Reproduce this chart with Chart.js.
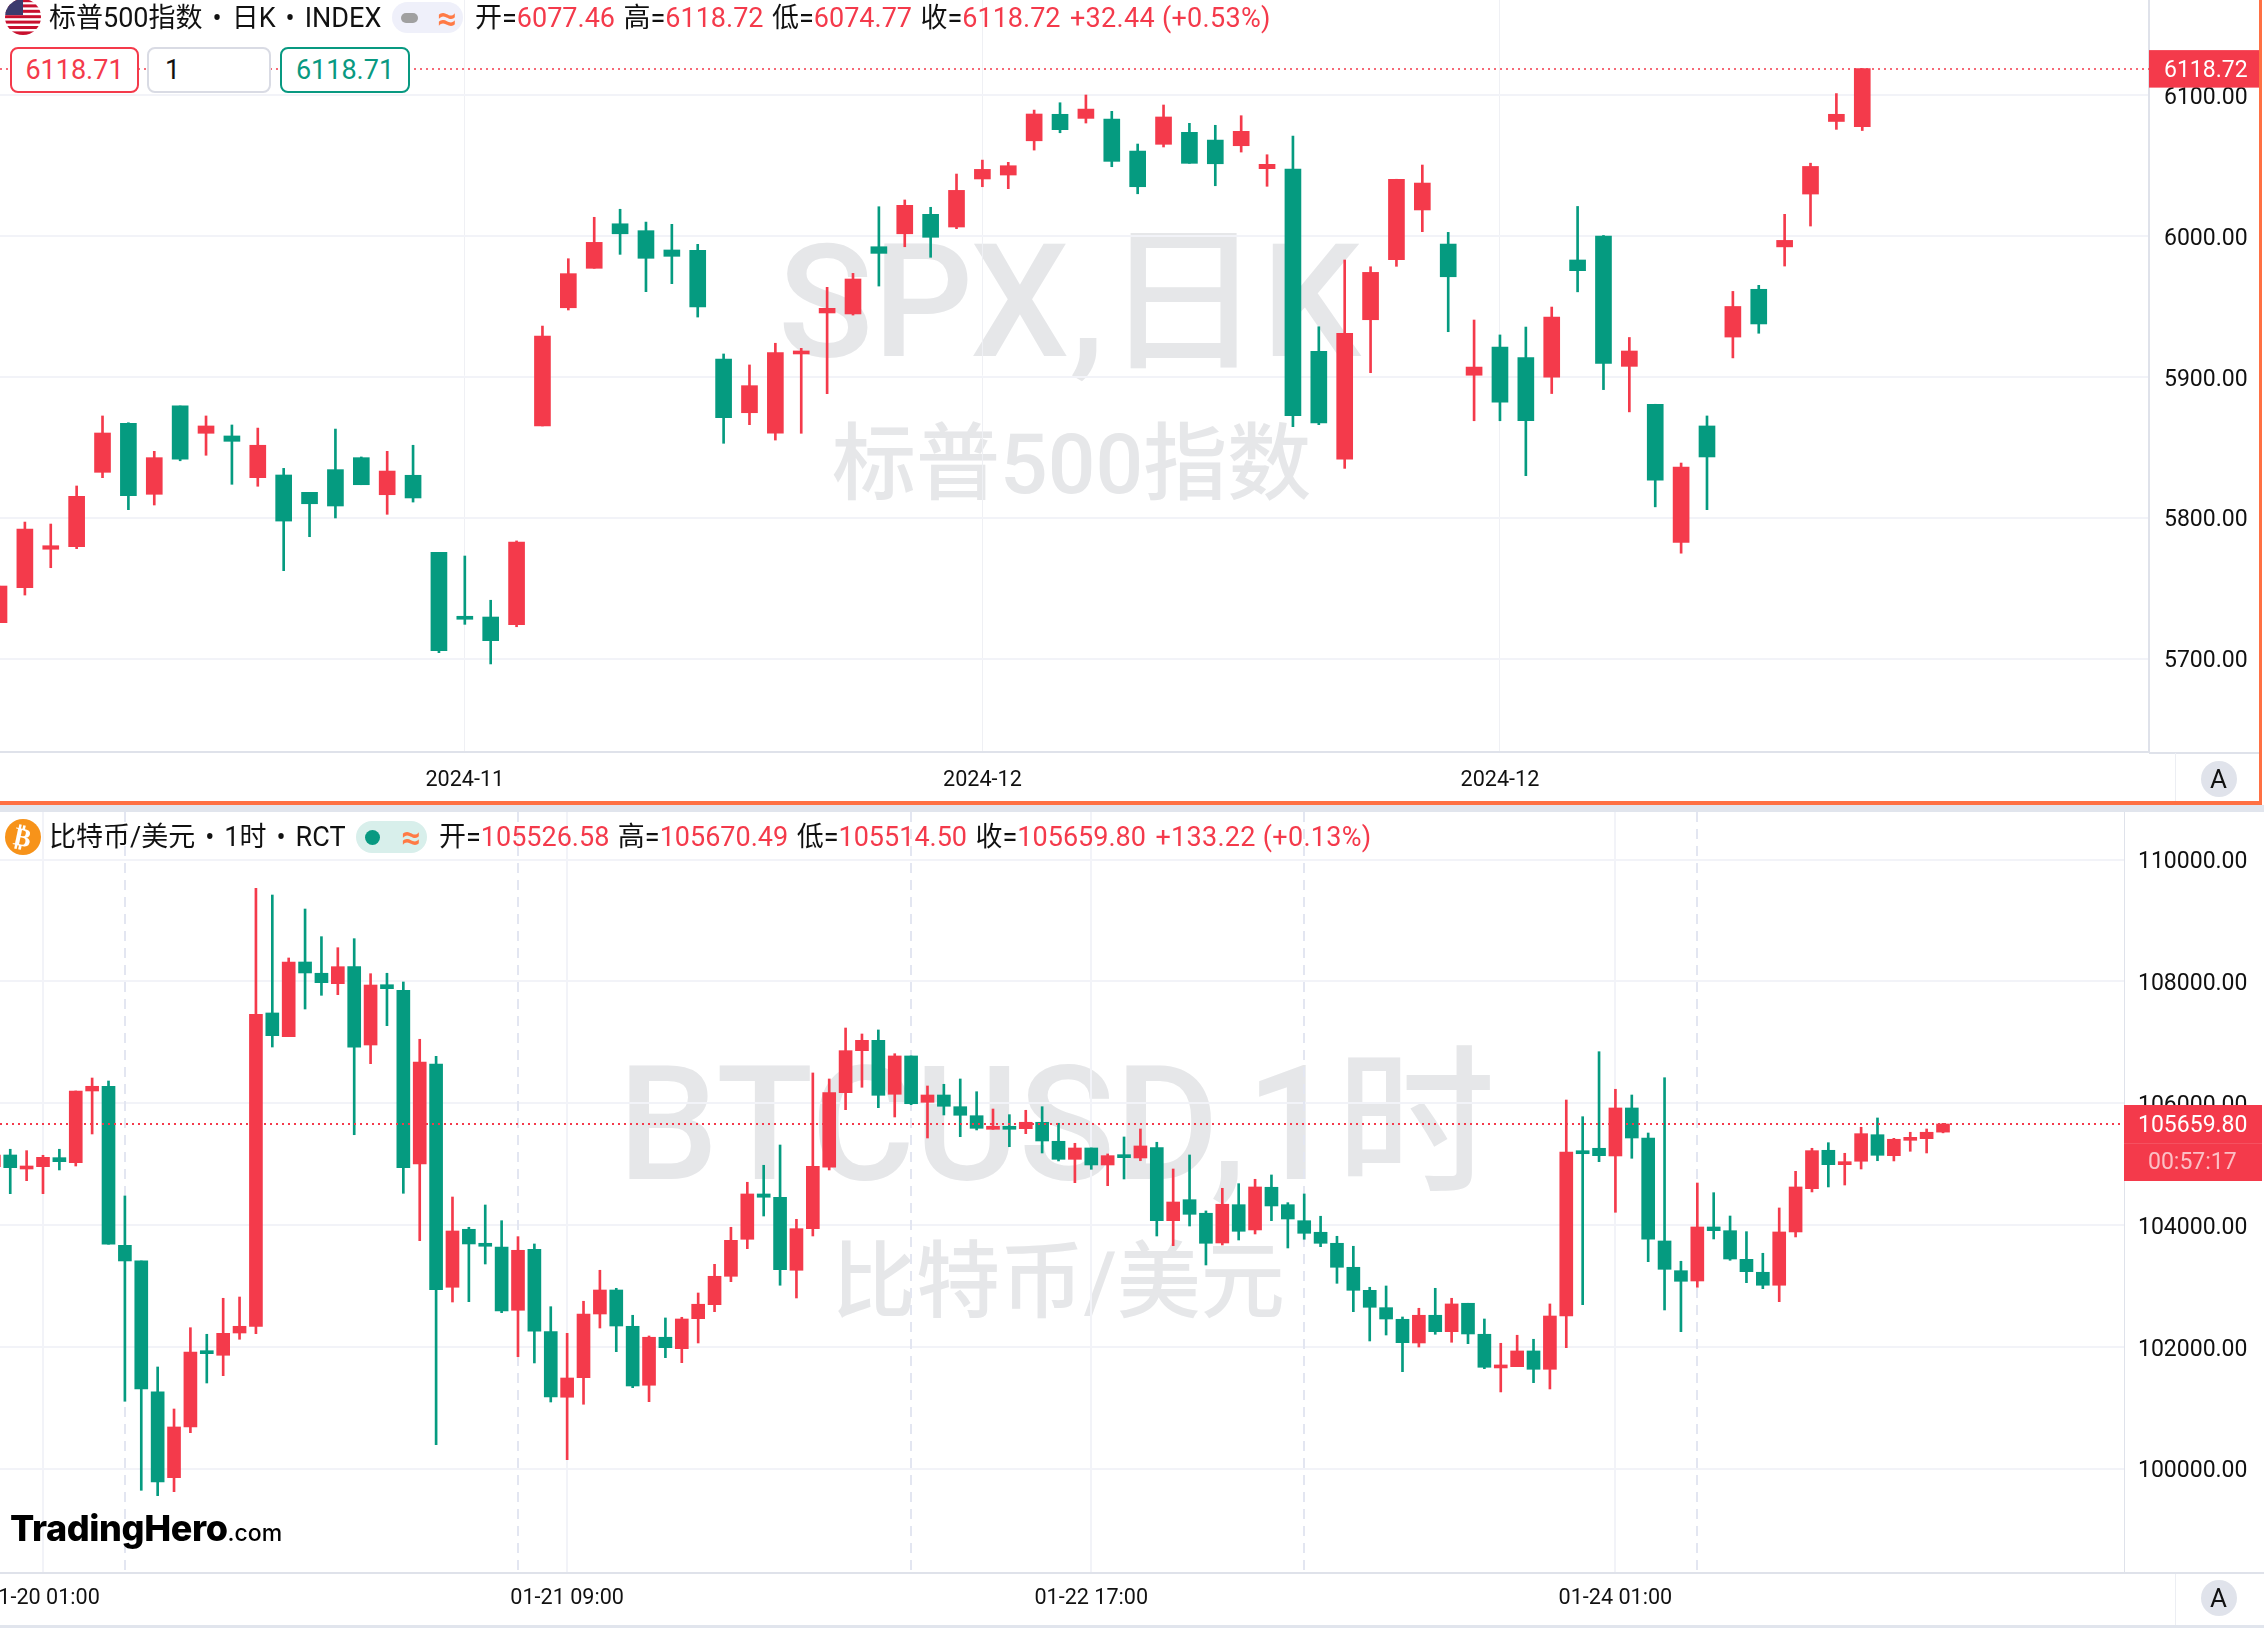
<!DOCTYPE html>
<html lang="zh">
<head>
<meta charset="utf-8">
<title>SPX and BTCUSD</title>
<script src="https://cdn.jsdelivr.net/npm/chart.js@4/dist/chart.umd.js"></script>
<style>
html,body{margin:0;padding:0;background:#fff;width:2264px;height:1628px;overflow:hidden}
body{position:relative;font-family:Roboto,'Noto Sans CJK SC',sans-serif;color:#111}
.abs{position:absolute;white-space:nowrap}
canvas{position:absolute;left:0;z-index:2}
.wm{position:absolute;white-space:nowrap;color:#e6e7e9;z-index:1;font-family:Roboto,'Noto Sans CJK SC',sans-serif;line-height:1;font-weight:500}
.hd{position:absolute;white-space:nowrap;z-index:4;font-size:27px;line-height:32px}
.hd .r{color:#f43a4b}
.hd .g{margin-left:8.5px}
.hd .dot{margin:0 10px}
.box{position:absolute;z-index:4;box-sizing:border-box;background:#fff;border-radius:8px;border:2px solid;font-size:27px;line-height:42px;height:46px;top:47px}
.pill{position:absolute;z-index:4;border-radius:16px}
.btnA{position:absolute;z-index:4;width:36px;height:36px;border-radius:18px;background:#e0e3eb;text-align:center;font-size:26px;line-height:36px;color:#111}
.bar{position:absolute;z-index:3}
</style>
</head>
<body>
<div class="wm" style="left:778px;top:224px;font-size:157px">SPX,日K</div>
<div class="wm" style="left:832px;top:423px;font-size:84px">标普500指数</div>
<div class="wm" style="left:618px;top:1045px;font-size:159px">BTCUSD,1时</div>
<div class="wm" style="left:832px;top:1241px;font-size:84px">比特币/美元</div>

<canvas id="spx" width="2264" height="802" style="top:0"></canvas>
<canvas id="btc" width="2264" height="816" style="top:812px"></canvas>

<div class="bar" style="left:2149px;top:751.5px;width:110px;height:2px;background:#dfe2ea"></div>
<div class="bar" style="left:2124px;top:1572px;width:140px;height:2px;background:#dfe2ea"></div>
<div class="bar" style="left:2175px;top:753px;width:1px;height:48px;background:#eceef3"></div>
<div class="bar" style="left:0;top:801px;width:2262px;height:3.5px;background:#ff7043"></div>
<div class="bar" style="left:2258.5px;top:0;width:3.5px;height:804px;background:#ff7043"></div>
<div class="bar" style="left:0;top:804.5px;width:2264px;height:7.5px;background:#e1e5ed"></div>
<div class="bar" style="left:0;top:1625px;width:2264px;height:3px;background:#e1e5ed"></div>
<div class="bar" style="left:2175px;top:1574px;width:1px;height:51px;background:#eceef3"></div>

<svg class="abs" style="left:5px;top:0;z-index:4" width="36" height="36" viewBox="0 0 36 36">
<defs><clipPath id="c"><circle cx="18" cy="17" r="18"/></clipPath></defs>
<g clip-path="url(#c)">
<rect x="0" y="-1" width="36" height="37" fill="#fff"/>
<rect x="0" y="-1" width="36" height="3.2" fill="#c8102e"/><rect x="0" y="4.4" width="36" height="3" fill="#c8102e"/><rect x="0" y="9.8" width="36" height="3" fill="#c8102e"/><rect x="0" y="15.2" width="36" height="3" fill="#c8102e"/><rect x="0" y="20.6" width="36" height="3" fill="#c8102e"/><rect x="0" y="26" width="36" height="3" fill="#c8102e"/><rect x="0" y="31.4" width="36" height="4" fill="#c8102e"/>
<rect x="0" y="-1" width="18" height="16" fill="#3c3b6e"/>
</g></svg>
<div class="hd" style="left:49px;top:2px">标普500指数<span class="dot">•</span>日K<span class="dot">•</span>INDEX</div>
<div class="pill" style="left:392px;top:2px;width:71px;height:31px;background:#eff0fa"></div>
<div class="pill" style="left:401px;top:13px;width:17px;height:10px;background:#a0a0a0;border-radius:5px"></div>
<div class="hd" style="left:437px;top:2px;color:#ff7a45;font-size:34px;font-weight:700">≈</div>
<div class="hd" id="spxHead" style="left:475px;top:2px"></div>

<div class="box" style="left:10px;width:129px;border-color:#f43a4b;color:#f43a4b;text-align:center">6118.71</div>
<div class="box" style="left:147px;width:124px;border-color:#d9dbe4;color:#111;padding-left:16px">1</div>
<div class="box" style="left:280px;width:130px;border-color:#089981;color:#089981;text-align:center">6118.71</div>
<div class="btnA" style="left:2200.5px;top:761px">A</div>

<div class="abs" style="left:5px;top:819px;width:36px;height:36px;border-radius:18px;background:#f7931a;color:#fff;z-index:4;text-align:center;font:bold 26px/36px 'DejaVu Sans'"><span style="display:inline-block;transform:rotate(12deg)">₿</span></div>
<div class="hd" style="left:49px;top:821px">比特币/美元<span class="dot">•</span>1时<span class="dot">•</span>RCT</div>
<div class="pill" style="left:356px;top:821px;width:71px;height:32px;background:#d8efeb"></div>
<div class="pill" style="left:365px;top:829.5px;width:15px;height:15px;background:#089981;border-radius:8px"></div>
<div class="hd" style="left:401px;top:821px;color:#ff7a45;font-size:34px;font-weight:700">≈</div>
<div class="hd" id="btcHead" style="left:439px;top:821px"></div>
<div class="btnA" style="left:2200.5px;top:1580px">A</div>

<div class="abs" style="left:10px;top:1503px;z-index:4;color:#000;font:800 36px/50px Inter,Lato,sans-serif;letter-spacing:-.4px">TradingHero<span style="font:500 23px/50px Inter,sans-serif;letter-spacing:0">.com</span></div>

<script>
// S&P 500, daily candles
const spxOpen=[5725.5,5750.3,5777.6,5779.4,5832.2,5867,5816.6,5879.3,5859.9,5858,5828.4,5830.3,5818,5834.1,5842.6,5816.3,5830.1,5775.4,5728.8,5729.5,5724.1,5865.1,5949,5977,6008.6,6003.7,5990,5989.8,5912.6,5874.5,5859.9,5916.2,5945.3,5944.6,5992.3,6001.5,6015.3,6006.3,6040.4,6043.2,6067.5,6086.3,6083.4,6082.9,6060.2,6065,6073.5,6068,6064,6047.7,6047.5,5918.1,5841.6,5940.5,5983.1,6018.4,5994.2,5901.1,5921.1,5913.7,5899.8,5982.9,5999.9,5907.4,5880.5,5782.4,5865.1,5928.2,5962.1,5992.2,6029.7,6081.2,6077.46];
const spxHigh=[5751.5,5796.9,5795.5,5822.5,5872.2,5867.4,5847.1,5879.3,5872.2,5865.8,5863.6,5835,5818,5862.9,5843.1,5847.1,5851.4,5775.4,5772.8,5741.4,5783.5,5936,5983.8,6013.2,6018.9,6009.8,6008.2,5994,5916.2,5908.4,5923.8,5920.2,5963.5,5973.4,6020.7,6025.5,6020.3,6043.9,6053.8,6052.2,6089.3,6094.5,6100,6088.4,6065.2,6092.9,6079.9,6078.5,6085.3,6057.6,6070.9,5935.5,5982.9,5978.1,6040.2,6050.3,6002.5,5940.3,5929.7,5935.3,5949.5,6020.9,6000.3,5927.9,5880.5,5838.8,5872.2,5960.6,5964.9,6015.3,6051.6,6101,6118.72];
const spxLow=[5725.5,5745.1,5764.5,5778,5828.4,5805.7,5809,5840.4,5844.3,5823.7,5822.3,5762.4,5786.5,5799.8,5823.4,5802.4,5811.1,5704.2,5724.3,5696.2,5722.6,5865.1,5947.4,5977,5986.9,5960.4,5966.1,5942.4,5852.8,5866,5855.1,5859.9,5888,5943.8,5964.4,5992.3,5984.8,6005.1,6034.9,6033.5,6060.9,6073.2,6080.1,6049.1,6029.9,6063.1,6051.5,6035.6,6059.5,6035.2,5864.6,5866,5835,5902.9,5978.4,6003,5932,5868.8,5868.8,5829.8,5888.1,5960.3,5890.9,5875.1,5807.7,5774.8,5805.7,5913.4,5930.9,5978.6,6007,6075.6,6074.77];
const spxClose=[5751.5,5792,5780.1,5815.2,5860.1,5815.6,5842.6,5841.6,5865.1,5854.2,5851.4,5797.6,5809.9,5808.3,5823.4,5833.1,5814,5705.6,5727.9,5712.7,5782.7,5928.9,5973.2,5995.4,6001.5,5984.1,5985.5,5949.5,5871,5893.7,5917.1,5917.1,5948.6,5969.4,5987.6,6021.7,5999,6032.3,6047.2,6049.8,6086.5,6075.4,6090,6052.9,6034.9,6084.4,6051.5,6051.2,6074.2,6050.8,5872.4,5867.2,5930.9,5974.1,6040.2,6037.5,5971,5906.9,5881.9,5868.8,5942.4,5975.3,5909.4,5918.3,5826.7,5836,5843.1,5949.9,5937.5,5996.8,6049.3,6086.3,6118.72];
const spxPriceTicks=[5700,5800,5900,6000,6100];
const spxDateTickAt=[18,38,58];
const spxDateLabels=['2024-11','2024-12','2024-12'];
const spxHeader={o:'6077.46',h:'6118.72',l:'6074.77',c:'6118.72',ch:'+32.44 (+0.53%)'};

// Bitcoin, hourly candles; index 0 is three hours before the 01-20 01:00 tick
const btcFirstHour=-3;
const btcOpen=[104959,105151,104921,104959,105107,105025,106202,106279,103668,103411,101260,99852,100685,101916,101862,102228,102338,107483,107094,108320,108135,107964,108243,106957,107947,107855,105003,106645,102979,103931,103690,103640,102601,103603,102250,101173,101494,102540,102934,102338,101370,102158,101971,102463,102693,103159,103767,104511,104457,103258,103941,104949,106174,106864,107034,106148,106777,106016,106136,105944,105796,105573,105594,105583,105688,105376,105080,105266,104987,105140,105102,105271,104072,104417,104194,103706,104335,103920,104621,104335,104072,103882,103701,103307,102929,102644,102453,102064,102519,102250,102716,102207,101654,101675,101933,101632,102507,105205,105261,105135,105923,105430,103739,103251,103082,103969,103908,103438,103225,103012,103887,104598,105228,104992,105048,105484,105140,105392,105419,105526.58];
const btcHigh=[105151,105245,105222,105146,105245,106202,106415,106366,104478,103411,101670,100980,102315,102207,102798,102819,109530,109420,108386,109190,108736,108555,108703,108128,108135,107992,107051,106772,104461,103964,104330,104072,103810,103690,102660,102223,102749,103258,102962,102519,102179,102475,102486,102885,103356,103964,104703,104982,105315,104095,106498,106399,107236,107138,107204,106814,106777,106284,106312,106399,106190,105906,105813,105885,105944,105672,105343,105266,105168,105447,105578,105360,104921,105151,104232,104604,104680,104752,104823,104368,104511,104145,103816,103652,102979,103000,102491,102634,102962,102798,102716,102458,102059,102191,102125,102705,106054,105780,106847,106230,106136,105512,106420,103406,104691,104532,104149,103892,103537,104281,104883,105261,105353,105179,105606,105759,105425,105524,105578,105670.49];
const btcLow=[104959,104516,104729,104516,104905,104970,105496,103685,101107,99645,99557,99622,100591,101407,101527,102125,102217,106924,107094,107548,107773,107783,105484,106650,107274,104522,103744,100394,102737,102742,103361,102562,101839,101736,101095,100148,101058,102310,101921,101330,101100,101823,101741,102064,102578,103071,103613,104149,103012,102803,103821,104905,105895,106263,105928,105775,105977,105430,105808,105452,105562,105573,105287,105501,105184,105053,104696,104916,104647,104757,105057,103821,103662,103985,103345,103673,103755,103854,104072,103624,103767,103645,103044,102578,102097,102195,101593,101998,102207,102076,102053,101642,101260,101675,101412,101309,101987,102693,105041,104210,105097,103399,102606,102250,102979,103772,103422,103054,102956,102742,103805,104544,104626,104658,104921,105057,105053,105212,105184,105514.5];
const btcClose=[105151,104943,104954,105113,105041,106202,106279,103685,103411,101309,99782,100685,101916,101888,102223,102338,107461,107110,108320,108140,107980,108243,106920,107942,107882,104943,106678,102939,103903,103690,103652,102590,103586,102256,101177,101489,102540,102934,102343,101358,102158,101987,102458,102700,103159,103750,104511,104457,103268,103941,104966,106174,106864,107034,106131,106777,105993,106136,105951,105803,105589,105594,105573,105688,105381,105080,105266,104987,105140,105107,105299,104072,104379,104177,103701,104342,103898,104626,104314,104100,103865,103701,103307,102929,102650,102458,102069,102519,102250,102705,102212,101665,101675,101933,101632,102507,105200,105172,105140,105923,105430,103767,103274,103077,103969,103908,103443,103235,103012,103887,104626,105222,104992,105041,105501,105146,105409,105419,105524,105659.8];
const btcPriceTicks=[100000,102000,104000,106000,108000,110000];
const btcDateTickAt=[0,32,64,96];
const btcDateLabels=['01-20 01:00','01-21 09:00','01-22 17:00','01-24 01:00'];
const btcDayBreaks=[5,29,53,77,101];
const btcHeader={o:'105526.58',h:'105670.49',l:'105514.50',c:'105659.80',ch:'+133.22 (+0.13%)'};
const btcCountdown='00:57:17';

const UP='#f43a4b',DOWN='#059b80',GRID='#f2f3f8',AXIS='#dfe2ea';
const FONT='Roboto';

function headHtml(h){
  return `开=<span class="r">${h.o}</span><span class="g">高=</span><span class="r">${h.h}</span><span class="g">低=</span><span class="r">${h.l}</span><span class="g">收=</span><span class="r">${h.c}</span><span class="g r" style="margin-left:9.5px;letter-spacing:.3px">${h.ch}</span>`;
}
document.getElementById('spxHead').innerHTML=headHtml(spxHeader);
document.getElementById('btcHead').innerHTML=headHtml(btcHeader);

function candleChart(cfg){
  const colors=cfg.close.map((c,i)=>c>=cfg.open[i]?UP:DOWN);
  const xs=cfg.close.map((_,i)=>i+cfg.first);
  const last=cfg.close[cfg.close.length-1];
  const overlay={
    id:'overlay',
    beforeDatasetsDraw(chart){
      const {ctx,chartArea:a,scales:{x}}=chart;
      ctx.save();
      (cfg.dashes||[]).forEach(v=>{
        const px=Math.round(x.getPixelForValue(v));
        ctx.strokeStyle='#e3e6f1';ctx.lineWidth=2;ctx.setLineDash([10,7]);
        ctx.beginPath();ctx.moveTo(px,a.top);ctx.lineTo(px,a.bottom);ctx.stroke();
      });
      ctx.restore();
    },
    afterDatasetsDraw(chart){
      const {ctx,chartArea:a,scales:{y}}=chart;
      ctx.save();
      const py=Math.round(y.getPixelForValue(last));
      ctx.strokeStyle=UP;ctx.lineWidth=cfg.dotW;ctx.setLineDash(cfg.dot);
      ctx.beginPath();ctx.moveTo(a.left,py);ctx.lineTo(a.right,py);ctx.stroke();
      ctx.restore();
    },
    afterDraw(chart){
      const {ctx,chartArea:a,scales:{y}}=chart;
      const py=y.getPixelForValue(last);
      ctx.save();
      ctx.fillStyle=UP;
      ctx.fillRect(a.right,py-cfg.tagUp,2259-a.right+cfg.tagExtra,cfg.tagUp+cfg.tagDown);
      ctx.textBaseline='middle';ctx.textAlign='left';
      ctx.font=`23px ${FONT}`;ctx.fillStyle='#fff';
      ctx.fillText(cfg.tagText,a.right+cfg.pad,py+2.5);
      if(cfg.sub){
        ctx.fillStyle='rgba(255,255,255,.12)';ctx.fillRect(a.right,py+19,2259-a.right+cfg.tagExtra,1);
        ctx.font=`23px ${FONT}`;ctx.fillStyle='rgba(255,255,255,.68)';
        ctx.fillText(cfg.sub,a.right+cfg.pad+10,py+39.5);
      }
      ctx.restore();
    }
  };
  return new Chart(document.getElementById(cfg.id),{
    type:'bar',
    data:{datasets:[
      {data:xs.map((x,i)=>({x,y:[cfg.low[i],cfg.high[i]]})),backgroundColor:colors,barThickness:2,grouped:false,order:2},
      {data:xs.map((x,i)=>({x,y:[cfg.open[i],cfg.close[i]]})),backgroundColor:colors,barThickness:cfg.bodyW,minBarLength:3,grouped:false,order:1}
    ]},
    options:{
      responsive:false,animation:false,devicePixelRatio:1,
      layout:{autoPadding:false,padding:0},
      plugins:{legend:{display:false},tooltip:{enabled:false},title:{display:false}},
      scales:{
        x:{type:'linear',offset:false,bounds:'data',min:cfg.xMin,max:cfg.xMax,
          grid:{offset:false,color:cfg.vGrid,lineWidth:cfg.vGridW,drawTicks:false},
          border:{color:AXIS,width:2},
          afterFit(s){s.height=cfg.xH;s.paddingLeft=0;s.paddingRight=0},
          afterBuildTicks(s){s.ticks=cfg.tickAt.map(v=>({value:v}))},
          ticks:{autoSkip:false,maxRotation:0,minRotation:0,padding:cfg.xPad,color:'#111',font:{family:FONT,size:21.6},
            callback:(v,i)=>cfg.dateLabels[i]}},
        y:{type:'linear',position:'right',bounds:'data',min:cfg.yMin,max:cfg.yMax,
          grid:{color:GRID,lineWidth:2,drawTicks:false},
          border:{color:AXIS,width:cfg.yBorderW},
          afterFit(s){s.width=cfg.yW;s.paddingTop=0;s.paddingBottom=0},
          afterBuildTicks(s){s.ticks=cfg.priceTicks.map(v=>({value:v}))},
          ticks:{padding:cfg.pad,labelOffset:3,color:'#111',font:{family:FONT,size:23},
            callback:v=>v.toFixed(2)}}
      }
    },
    plugins:[overlay]
  });
}

candleChart({id:'spx',first:0,open:spxOpen,high:spxHigh,low:spxLow,close:spxClose,
  bodyW:16,xMin:0.0386,xMax:83.08,xH:50,xPad:16,tickAt:spxDateTickAt,dateLabels:spxDateLabels,
  vGrid:'#eff0f4',vGridW:1,yMin:5633.7,yMax:6167.42,yW:115,yBorderW:2,priceTicks:spxPriceTicks,pad:15,
  dotW:1.5,dot:[2,4],tagUp:18.5,tagDown:19,tagExtra:0,tagText:spxHeader.c});
candleChart({id:'btc',first:btcFirstHour,open:btcOpen,high:btcHigh,low:btcLow,close:btcClose,
  bodyW:13,xMin:-2.625,xMax:127.05,xH:55,xPad:13,tickAt:btcDateTickAt,dateLabels:btcDateLabels,
  vGrid:GRID,vGridW:2,yMin:98287,yMax:110783,yW:140,yBorderW:1,priceTicks:btcPriceTicks,pad:14,
  dashes:btcDayBreaks,dotW:2,dot:[2,4],tagUp:19,tagDown:57,tagExtra:3,tagText:btcHeader.c,sub:btcCountdown});
</script>
</body>
</html>
